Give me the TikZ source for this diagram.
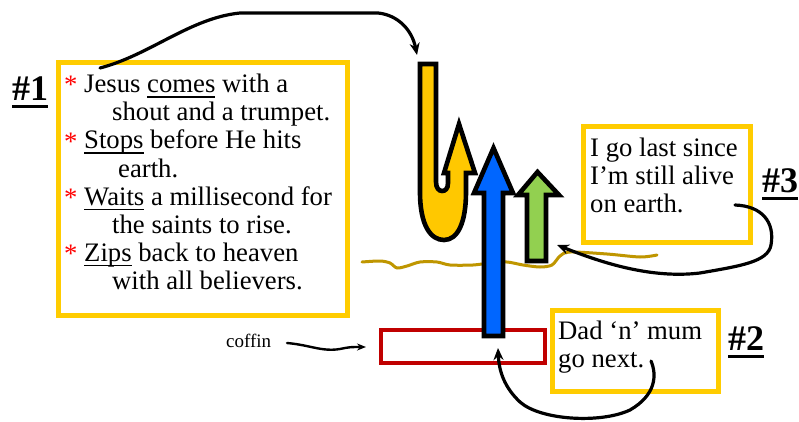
\documentclass[tikz,border=0pt]{standalone}
\usepackage{fontspec}
\setmainfont{Liberation Serif}
\usetikzlibrary{arrows.meta}
\definecolor{boxyellow}{RGB}{255,204,0}
\definecolor{arrowyellow}{RGB}{255,200,0}
\definecolor{arrowblue}{RGB}{0,102,255}
\definecolor{arrowgreen}{RGB}{146,208,80}
\definecolor{coffinred}{RGB}{192,0,0}
\definecolor{groundcol}{RGB}{191,150,0}
\newsavebox{\ulbox}
\newcommand{\myul}[1]{\sbox{\ulbox}{#1}\rlap{\rule[-5pt]{\wd\ulbox}{1.5pt}}\usebox{\ulbox}}
\newcommand{\numlbl}[1]{\sbox{\ulbox}{\fontsize{36}{40}\selectfont\bfseries #1}\rlap{\rule[-7.5pt]{\wd\ulbox}{3pt}}\usebox{\ulbox}}
\tikzset{
  ybox/.style={draw=boxyellow, line width=5pt, rectangle, anchor=north west, inner sep=0pt},
  txt/.style={anchor=base west, inner sep=0pt, font=\fontsize{26.7}{28}\selectfont},
  star/.style={anchor=base west, inner sep=0pt, text=red, font=\fontsize{26.7}{28}\selectfont},
  numl/.style={anchor=base west, inner sep=0pt},
  conn/.style={draw=black, line width=3.2pt, line cap=round, -{Stealth[length=12pt,width=10pt]}},
  bigarrow/.style={draw=black, line width=4.6pt, line join=miter, miter limit=10},
}
\begin{document}
\begin{tikzpicture}[x=1pt,y=-1pt]
\useasboundingbox (0,0) rectangle (799,422);
\fill[white] (0,0) rectangle (799,422);

% boxes
\node[ybox, minimum width=289pt, minimum height=252pt] (box1) at (55.5,60.5) {};
\node[ybox, minimum width=167pt, minimum height=115pt] (box3) at (580.5,124.5) {};
\node[ybox, minimum width=166pt, minimum height=81pt] (box2) at (549.5,307.5) {};
\node[draw=coffinred, line width=4pt, rectangle, anchor=north west, inner sep=0pt,
      minimum width=164pt, minimum height=33pt] (coffin) at (379,328) {};

% box 1 text
\node[star] (s1) at (64,94) {*};
\node[txt] (l1) at (84,93) {Jesus \myul{comes} with a};
\node[txt] (l2) at (112,121) {shout and a trumpet.};
\node[star] (s2) at (64,150) {*};
\node[txt] (l3) at (84,149) {\myul{Stops} before He hits};
\node[txt] (l4) at (118,177) {earth.};
\node[star] (s3) at (64,206) {*};
\node[txt] (l5) at (84,205) {\myul{Waits} a millisecond for};
\node[txt] (l6) at (112,233) {the saints to rise.};
\node[star] (s4) at (64,262) {*};
\node[txt] (l7) at (84,261) {\myul{Zips} back to heaven};
\node[txt] (l8) at (112,289) {with all believers.};

% box 3 text
\node[txt] (m1) at (590,157) {I go last since};
\node[txt] (m2) at (590,184) {I’m still alive};
\node[txt] (m3) at (590,212) {on earth.};

% box 2 text
\node[txt] (d1) at (558,339) {Dad ‘n’ mum};
\node[txt] (d2) at (558,367) {go next.};

% number labels
\node[numl] (n1) at (12,101) {\numlbl{\#1}};
\node[numl] (n3) at (762,192) {\numlbl{\#3}};
\node[numl] (n2) at (728,350) {\numlbl{\#2}};

% coffin label
\node[anchor=base west, inner sep=0pt, font=\fontsize{19}{21}\selectfont] (cl) at (226,347) {coffin};

% ground line
\draw[groundcol, line width=3pt, line join=round, line cap=round]
  plot[smooth, tension=0.5] coordinates {(362,262) (380,261) (390,263) (397,268) (407,266) (420,262) (437,262) (450,265) (473,265) (490,263) (507,262) (523,265) (540,267) (552,265) (560,256) (570,252) (607,254) (640,257) (657,255)};

% yellow U-turn arrow
\filldraw[bigarrow, fill=arrowyellow]
  (420,64) -- (420,192) .. controls (420,226) and (431,240) .. (444,240)
  .. controls (458,240) and (466,222) .. (466,192) -- (466,173) -- (475,173) -- (459,124)
  -- (444,173) -- (448,173) -- (448,183) .. controls (448,189) and (445,191) .. (442,191)
  .. controls (439,191) and (436,188) .. (436,182) -- (436,64) -- cycle;

% blue arrow
\filldraw[bigarrow, fill=arrowblue]
  (484,336) -- (484,193) -- (474,193) -- (493.5,148) -- (513,193) -- (503,193) -- (503,336) -- cycle;

% green arrow
\filldraw[bigarrow, fill=arrowgreen]
  (527,261) -- (527,195) -- (518,195) -- (537.5,172) -- (559,195) -- (546,195) -- (546,261) -- cycle;

% connectors
\coordinate (t1) at (100,68);
\coordinate (t2) at (417,55);
\draw[conn] (t1) .. controls (150,55) and (190,18) .. (240,13) -- (378,13)
  .. controls (398,15) and (412,30) .. (t2);

\coordinate (c1) at (287,343);
\coordinate (c2) at (366,347);
\draw[conn, line width=2.4pt, -{Stealth[length=9pt,width=7pt]}] (c1) .. controls (310,345) and (322,352) .. (340,349) .. controls (350,347) .. (c2);

\coordinate (b2s) at (651,361);
\coordinate (b2e) at (498,348);
\draw[conn] (b2s) .. controls (657,375) and (656,395) .. (630,410)
  .. controls (600,424) and (540,420) .. (520,402)
  .. controls (505,388) and (499,372) .. (b2e);

\coordinate (b3s) at (735,205);
\coordinate (b3e) at (557,245);
\draw[conn] (b3s) .. controls (762,206) and (775,222) .. (771,245)
  .. controls (768,262) and (740,266) .. (700,273)
  .. controls (650,279) and (600,262) .. (b3e);
\end{tikzpicture}
\end{document}
